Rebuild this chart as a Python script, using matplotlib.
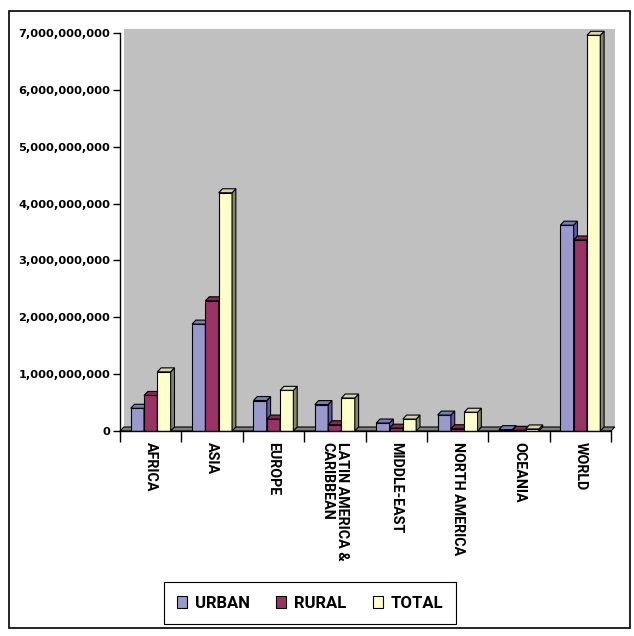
import matplotlib
matplotlib.use("Agg")
import matplotlib.pyplot as plt
import numpy as np
from matplotlib.patches import Polygon, Rectangle
from matplotlib.ticker import FuncFormatter

regions = ["AFRICA", "ASIA", "EUROPE", "LATIN AMERICA &\nCARIBBEAN", "MIDDLE-EAST",
           "NORTH AMERICA", "OCEANIA", "WORLD"]
urban = [0.40e9, 1.88e9, 0.536e9, 0.465e9, 0.14e9, 0.28e9, 0.024e9, 3.62e9]
rural = [0.625e9, 2.29e9, 0.21e9, 0.11e9, 0.05e9, 0.04e9, 0.012e9, 3.36e9]
total = [1.04e9, 4.19e9, 0.715e9, 0.58e9, 0.21e9, 0.33e9, 0.036e9, 6.96e9]
series_names = ["URBAN", "RURAL", "TOTAL"]

# front, side, top colours for each series
front_cols = ["#9999CC", "#993366", "#FFFFCC"]
side_cols = ["#5C5CA3", "#6A2246", "#85856A"]
top_cols = ["#7C7CBC", "#7E2A53", "#D6D6A8"]

W, H = 634, 636
fig = plt.figure(figsize=(W / 100, H / 100), dpi=100)
# front plane of the chart, in pixels
px_l, px_r, px_t, px_b = 120, 611, 33, 431
ax = fig.add_axes([px_l / W, (H - px_b) / H, (px_r - px_l) / W, (px_b - px_t) / H])
ax.set_facecolor("none")

n = len(regions)
ymax = 7e9
ax.set_xlim(-0.5, n - 0.5)
ax.set_ylim(0, ymax)

# 3d depth, converted from pixels to data units
dx = 3.8 * n / (px_r - px_l)
dy = 4.0 * ymax / (px_b - px_t)

# back wall + floor
ax.add_patch(Rectangle((-0.5 + dx, dy), n, ymax, facecolor="#C0C0C0", edgecolor="none",
                       zorder=0, clip_on=False))
ax.add_patch(Polygon([(-0.5, 0), (n - 0.5, 0), (n - 0.5 + dx, dy), (-0.5 + dx, dy)],
                     closed=True, facecolor="#808080", edgecolor="black", lw=0.8,
                     zorder=1, clip_on=False))

w = 0.217
x = np.arange(n)
z = 2
for k, vals in enumerate([urban, rural, total]):
    offs = (k - 1) * w
    ax.bar(x + offs, vals, width=w, color=front_cols[k], edgecolor="black", lw=0.8,
           zorder=z + k * 3, label=series_names[k])
    for i, h in enumerate(vals):
        x0 = x[i] + offs - w / 2
        x1 = x0 + w
        ax.add_patch(Polygon([(x1, 0), (x1, h), (x1 + dx, h + dy), (x1 + dx, dy)],
                             closed=True, facecolor=side_cols[k], edgecolor="black",
                             lw=0.8, zorder=z + k * 3 + 1, clip_on=False))
        ax.add_patch(Polygon([(x0, h), (x1, h), (x1 + dx, h + dy), (x0 + dx, h + dy)],
                             closed=True, facecolor=top_cols[k], edgecolor="black",
                             lw=0.8, zorder=z + k * 3 + 1, clip_on=False))

for s in ["top", "right"]:
    ax.spines[s].set_visible(False)
ax.spines["left"].set_linewidth(1.0)
ax.spines["bottom"].set_linewidth(1.0)
ax.spines["bottom"].set_zorder(20)

ax.set_yticks(np.arange(0, 8e9, 1e9))
ax.yaxis.set_major_formatter(FuncFormatter(lambda v, p: f"{int(v):,}"))
ax.tick_params(axis="y", length=5, width=1, pad=2, labelsize=8.2)
for t in ax.get_yticklabels():
    t.set_fontweight("bold")
    t.set_family("DejaVu Sans")

ax.set_xticks(np.arange(-0.5, n, 1.0))
ax.set_xticklabels([])
ax.tick_params(axis="x", which="major", length=8, width=1, direction="out")
ax.set_xticks(x, minor=True)
ax.set_xticklabels(regions, minor=True, rotation=270, fontsize=10.3, fontweight="bold",
                   family="Roboto", va="top", ha="center", multialignment="left",
                   linespacing=1.0)
ax.tick_params(axis="x", which="minor", length=0, pad=8)

leg = fig.legend(loc="center", bbox_to_anchor=(310 / W, (H - 603) / H), ncol=3,
                 frameon=True, fancybox=False, edgecolor="black", framealpha=1,
                 prop={"family": "Roboto", "weight": "bold", "size": 12},
                 handlelength=0.6, handleheight=0.75, handletextpad=0.45,
                 columnspacing=1.6, borderpad=0.8)
leg.get_frame().set_linewidth(0.8)

# outer chart border
fig.add_artist(Rectangle((8.5 / W, 8 / H), (630 - 8.5) / W, (625 - 8) / H,
                         transform=fig.transFigure, fill=False, edgecolor="black", lw=1.2))

fig.savefig("out.png", dpi=100)
